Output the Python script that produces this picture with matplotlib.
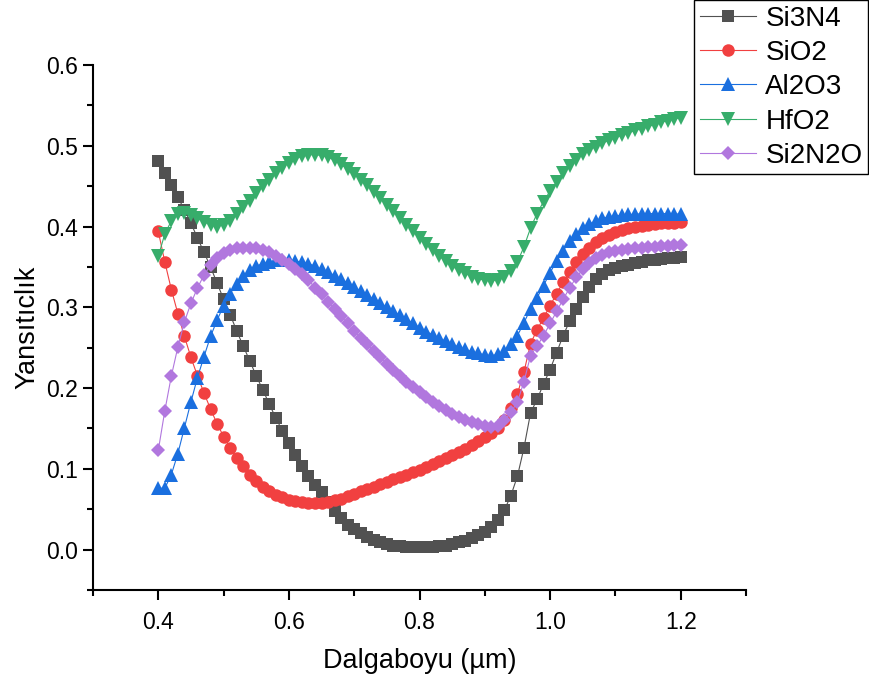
import matplotlib
matplotlib.use("Agg")
import matplotlib.pyplot as plt
from matplotlib.ticker import MultipleLocator
import numpy as np

plt.rcParams['font.family'] = ['Liberation Sans', 'DejaVu Sans']

wavelength = np.round(np.arange(0.40, 1.2001, 0.01), 2)

si3n4 = [0.481, 0.466, 0.452, 0.436, 0.421, 0.404, 0.386, 0.368, 0.350, 0.330,
         0.310, 0.291, 0.271, 0.252, 0.234, 0.215, 0.198, 0.180, 0.163, 0.147,
         0.132, 0.117, 0.104, 0.091, 0.080, 0.071, 0.059, 0.048, 0.039, 0.031,
         0.025, 0.020, 0.016, 0.012, 0.009, 0.007, 0.005, 0.004, 0.003, 0.003,
         0.003, 0.003, 0.003, 0.004, 0.005, 0.007, 0.009, 0.011, 0.014, 0.018,
         0.022, 0.028, 0.037, 0.049, 0.067, 0.091, 0.126, 0.169, 0.186, 0.205,
         0.223, 0.244, 0.265, 0.283, 0.298, 0.313, 0.325, 0.335, 0.341, 0.346,
         0.349, 0.351, 0.353, 0.355, 0.356, 0.358, 0.359, 0.360, 0.361, 0.361,
         0.362]

sio2 = [0.394, 0.356, 0.322, 0.292, 0.264, 0.238, 0.215, 0.194, 0.174, 0.156,
        0.140, 0.126, 0.114, 0.103, 0.093, 0.085, 0.078, 0.072, 0.068, 0.065,
        0.062, 0.060, 0.059, 0.058, 0.058, 0.058, 0.059, 0.061, 0.063, 0.066,
        0.069, 0.072, 0.075, 0.078, 0.081, 0.084, 0.087, 0.090, 0.093, 0.096,
        0.099, 0.102, 0.106, 0.110, 0.113, 0.117, 0.121, 0.125, 0.129, 0.134,
        0.139, 0.144, 0.151, 0.160, 0.175, 0.193, 0.220, 0.255, 0.272, 0.287,
        0.302, 0.317, 0.331, 0.344, 0.356, 0.366, 0.374, 0.381, 0.386, 0.390,
        0.393, 0.396, 0.398, 0.400, 0.401, 0.402, 0.403, 0.404, 0.405, 0.405,
        0.406]

al2o3 = [0.076, 0.076, 0.093, 0.119, 0.151, 0.183, 0.213, 0.239, 0.264, 0.284,
         0.302, 0.317, 0.329, 0.339, 0.346, 0.351, 0.354, 0.356, 0.358, 0.358,
         0.358, 0.357, 0.356, 0.354, 0.351, 0.347, 0.344, 0.339, 0.335, 0.330,
         0.325, 0.320, 0.315, 0.310, 0.305, 0.300, 0.295, 0.290, 0.285, 0.280,
         0.275, 0.270, 0.266, 0.262, 0.258, 0.254, 0.251, 0.248, 0.245, 0.243,
         0.241, 0.240, 0.242, 0.246, 0.254, 0.265, 0.281, 0.298, 0.312, 0.327,
         0.343, 0.357, 0.370, 0.382, 0.391, 0.398, 0.403, 0.407, 0.410, 0.412,
         0.413, 0.414, 0.415, 0.415, 0.416, 0.416, 0.416, 0.416, 0.416, 0.416,
         0.415]

hfo2 = [0.363, 0.391, 0.407, 0.415, 0.417, 0.414, 0.410, 0.406, 0.402, 0.400,
        0.402, 0.407, 0.415, 0.424, 0.432, 0.441, 0.450, 0.458, 0.466, 0.473,
        0.479, 0.484, 0.487, 0.489, 0.489, 0.488, 0.486, 0.482, 0.477, 0.471,
        0.465, 0.458, 0.451, 0.443, 0.435, 0.427, 0.419, 0.410, 0.402, 0.394,
        0.386, 0.378, 0.371, 0.364, 0.357, 0.351, 0.346, 0.342, 0.338, 0.335,
        0.334, 0.333, 0.334, 0.338, 0.345, 0.356, 0.375, 0.398, 0.416, 0.431,
        0.444, 0.455, 0.466, 0.475, 0.483, 0.490, 0.495, 0.499, 0.503, 0.507,
        0.510, 0.513, 0.516, 0.519, 0.521, 0.524, 0.526, 0.529, 0.531, 0.533,
        0.535]

si2n2o = [0.123, 0.172, 0.215, 0.251, 0.282, 0.305, 0.324, 0.340, 0.352, 0.361,
          0.367, 0.371, 0.373, 0.374, 0.374, 0.373, 0.371, 0.368, 0.364, 0.359,
          0.354, 0.348, 0.341, 0.334, 0.324, 0.316, 0.307, 0.298, 0.289, 0.280,
          0.271, 0.262, 0.254, 0.246, 0.238, 0.230, 0.222, 0.215, 0.208, 0.201,
          0.195, 0.189, 0.183, 0.178, 0.173, 0.168, 0.164, 0.161, 0.158, 0.155,
          0.153, 0.152, 0.153, 0.160, 0.170, 0.183, 0.208, 0.240, 0.252, 0.265,
          0.280, 0.295, 0.310, 0.324, 0.337, 0.347, 0.355, 0.361, 0.365, 0.368,
          0.370, 0.371, 0.372, 0.373, 0.374, 0.375, 0.375, 0.376, 0.376, 0.377,
          0.377]

series = [
    ("Si3N4", si3n4, "#515151", "s", 8),
    ("SiO2", sio2, "#F14040", "o", 9),
    ("Al2O3", al2o3, "#1A6FDF", "^", 10),
    ("HfO2", hfo2, "#37AD6B", "v", 10),
    ("Si2N2O", si2n2o, "#B177DE", "D", 7),
]

fig = plt.figure(figsize=(8.70, 6.82), dpi=100)
ax = fig.add_axes([93/870, 1 - 590/682, (746 - 93)/870, (590 - 65)/682])

for name, vals, col, mk, ms in series:
    ax.plot(wavelength, vals, color=col, linewidth=0.8, marker=mk,
            markersize=ms, markeredgewidth=0, label=name)

ax.set_xlim(0.3, 1.3)
ax.set_ylim(-0.05, 0.6)
ax.xaxis.set_major_locator(MultipleLocator(0.2))
ax.xaxis.set_minor_locator(MultipleLocator(0.1))
ax.yaxis.set_major_locator(MultipleLocator(0.1))
ax.yaxis.set_minor_locator(MultipleLocator(0.05))
ax.set_xticks([0.4, 0.6, 0.8, 1.0, 1.2])
ax.set_xticklabels(["0.4", "0.6", "0.8", "1.0", "1.2"])
ax.set_yticks([0.0, 0.1, 0.2, 0.3, 0.4, 0.5, 0.6])
ax.set_yticklabels(["0.0", "0.1", "0.2", "0.3", "0.4", "0.5", "0.6"])

for s in ["top", "right"]:
    ax.spines[s].set_visible(False)
for s in ["left", "bottom"]:
    ax.spines[s].set_linewidth(1.5)

ax.tick_params(axis="both", which="major", direction="out", length=7,
               width=1.5, labelsize=16.5, pad=4)
ax.tick_params(axis="both", which="minor", direction="out", length=4,
               width=1.5)
ax.tick_params(axis="x", which="major", pad=8)

ax.set_xlabel("Dalgaboyu (µm)", fontsize=19.5, labelpad=10)
ax.set_ylabel("Yansıtıclık", fontsize=19.5, labelpad=4)

leg = ax.legend(loc="upper right", bbox_to_anchor=(868/870, 1.0),
                bbox_transform=fig.transFigure, fontsize=20, frameon=True,
                fancybox=False, edgecolor="black", handlelength=2.0,
                borderpad=0.2, borderaxespad=0.0, labelspacing=0.3,
                handletextpad=0.35, framealpha=1.0)
leg.get_frame().set_linewidth(1.0)

fig.savefig("out.png", dpi=100)
